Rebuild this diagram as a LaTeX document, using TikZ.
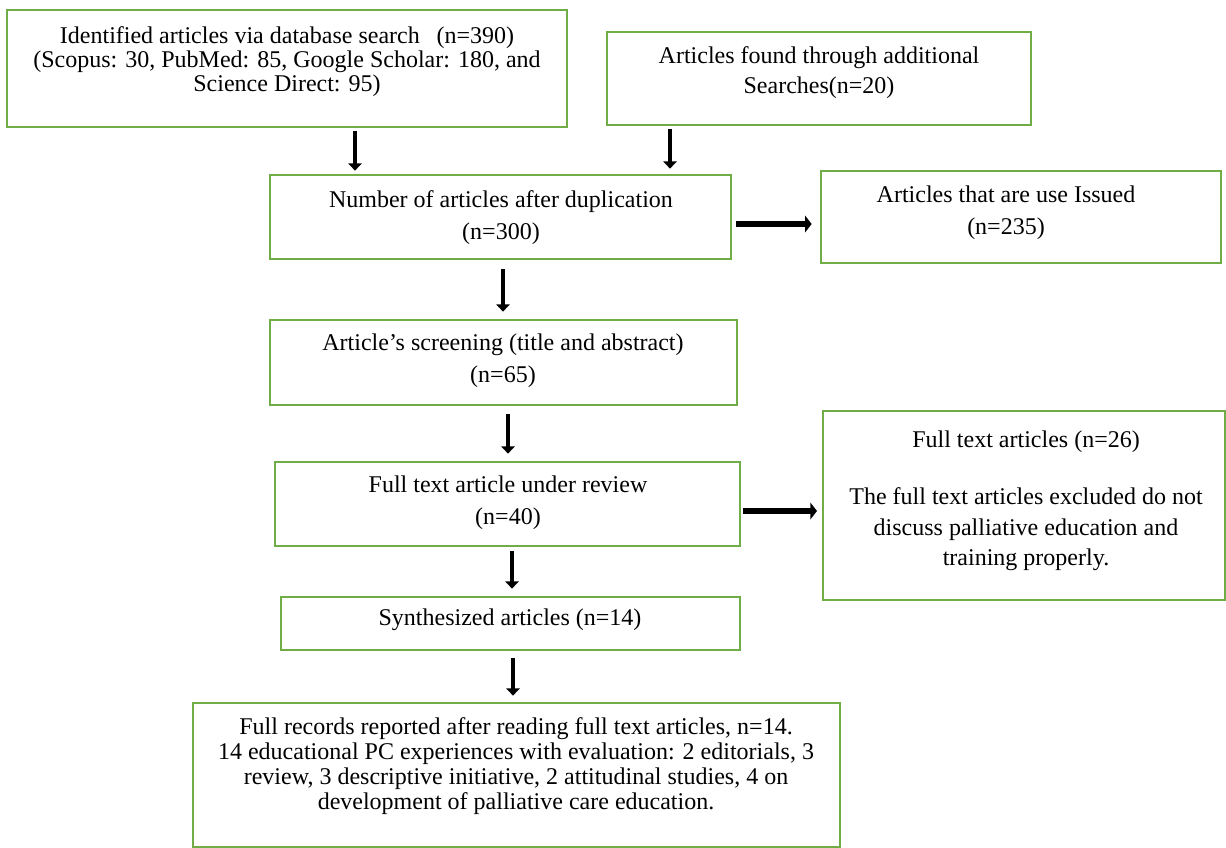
\documentclass[tikz,border=0pt]{standalone}
\usepackage{fontspec}
\setmainfont{Liberation Serif}
\usetikzlibrary{arrows.meta}
\definecolor{boxgreen}{HTML}{70AD47}
\begin{document}
\begin{tikzpicture}[x=0.75pt,y=-0.75pt,
  box/.style={draw=boxgreen,line width=2pt,inner sep=0pt},
  txt/.style={inner sep=0pt,anchor=base,font=\fontsize{18}{22}\selectfont},
  varr/.style={line width=3pt,-{Triangle[length=5.5pt,width=10pt]}},
  harr/.style={line width=4.5pt,-{Triangle[length=5pt,width=12.5pt]}}]
\useasboundingbox (0,0) rectangle (1226,848);
% boxes
\node[box,minimum width=420pt,minimum height=87.75pt] (A) at (287,68.5) {};
\node[box,minimum width=318pt,minimum height=69.75pt] (B) at (819,78.5) {};
\node[box,minimum width=345.75pt,minimum height=63pt] (C) at (500.5,217) {};
\node[box,minimum width=300pt,minimum height=69pt] (D) at (1021,217) {};
\node[box,minimum width=350.25pt,minimum height=63.75pt] (E) at (503.5,362.5) {};
\node[box,minimum width=348.75pt,minimum height=63pt] (F) at (507.5,504) {};
\node[box,minimum width=344.25pt,minimum height=39.75pt] (G) at (510.5,623.5) {};
\node[box,minimum width=485.25pt,minimum height=108pt] (H) at (516.5,775) {};
\node[box,minimum width=301.5pt,minimum height=141.75pt] (X) at (1024,505.5) {};
% texts
\node[txt] (A1) at (287,44) {Identified articles via database search\hspace{0.7em}(n=390)};
\node[txt] (A2) at (287,68) {(Scopus: 30, PubMed: 85, Google Scholar: 180, and};
\node[txt] (A3) at (287,92) {Science Direct: 95)};
\node[txt] (B1) at (819,64) {Articles found through additional};
\node[txt] (B2) at (819,94) {Searches(n=20)};
\node[txt] (C1) at (501,208) {Number of articles after duplication};
\node[txt] (C2) at (501,240) {(n=300)};
\node[txt] (D1) at (1006,203) {Articles that are use Issued};
\node[txt] (D2) at (1006,235) {(n=235)};
\node[txt] (E1) at (503,350) {Article’s screening (title and abstract)};
\node[txt] (E2) at (503,382) {(n=65)};
\node[txt] (F1) at (508,492) {Full text article under review};
\node[txt] (F2) at (508,524) {(n=40)};
\node[txt] (G1) at (510,625) {Synthesized articles (n=14)};
\node[txt] (H1) at (516,734) {Full records reported after reading full text articles, n=14.};
\node[txt] (H2) at (516,759) {14 educational PC experiences with evaluation: 2 editorials, 3};
\node[txt] (H3) at (516,784) {review, 3 descriptive initiative, 2 attitudinal studies, 4 on};
\node[txt] (H4) at (516,809) {development of palliative care education.};
\node[txt] (X1) at (1026,447) {Full text articles (n=26)};
\node[txt] (X2) at (1026,504) {The full text articles excluded do not};
\node[txt] (X3) at (1026,535) {discuss palliative education and};
\node[txt] (X4) at (1026,565) {training properly.};
% arrow x positions
\coordinate (xa) at (355,0);
\coordinate (xb) at (670,0);
\coordinate (xc) at (503,0);
\coordinate (xe) at (508,0);
\coordinate (xf) at (512,0);
\coordinate (xg) at (513,0);
\coordinate (yc) at (0,224);
\coordinate (yf) at (0,511);
% arrows
\draw[varr,shorten <=2pt,shorten >=2.25pt] (xa |- A.south) -- (xa |- C.north);
\draw[varr,shorten <=2.25pt,shorten >=3.75pt] (xb |- B.south) -- (xb |- C.north);
\draw[varr,shorten <=6.75pt,shorten >=5.25pt] (xc |- C.south) -- (xc |- E.north);
\draw[varr,shorten <=6pt,shorten >=5.25pt] (xe |- E.south) -- (xe |- F.north);
\draw[varr,shorten <=3pt,shorten >=5.25pt] (xf |- F.south) -- (xf |- G.north);
\draw[varr,shorten <=5.25pt,shorten >=4.5pt] (xg |- G.south) -- (xg |- H.north);
\draw[harr,shorten <=3pt,shorten >=6pt] (C.east |- yc) -- (D.west |- yc);
\draw[harr,shorten <=1.5pt,shorten >=3.5pt] (F.east |- yf) -- (X.west |- yf);
\end{tikzpicture}
\end{document}
